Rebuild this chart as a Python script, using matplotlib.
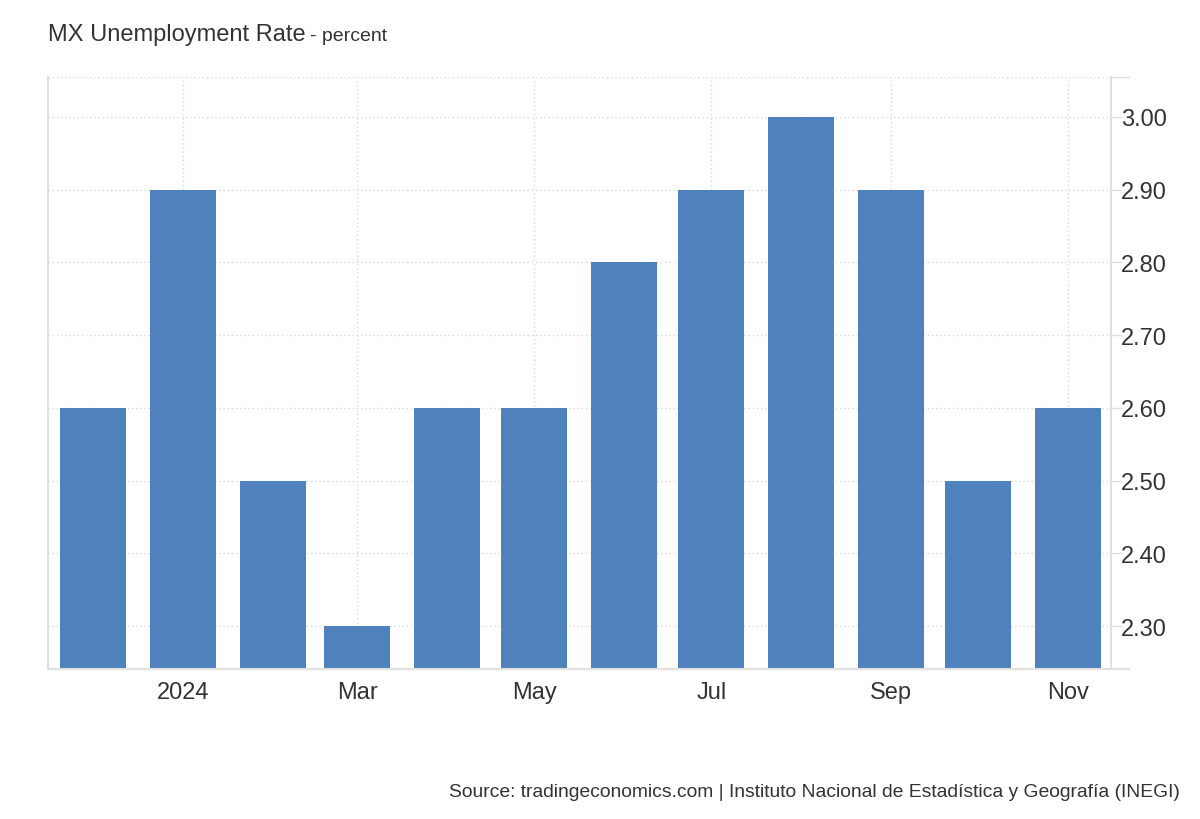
import datetime as dt

import matplotlib
matplotlib.use("Agg")
import matplotlib.dates as mdates
import matplotlib.pyplot as plt

# monthly unemployment rate, Dec 2023 - Nov 2024
months = ["2023-12", "2024-01", "2024-02", "2024-03", "2024-04", "2024-05",
          "2024-06", "2024-07", "2024-08", "2024-09", "2024-10", "2024-11"]
rates = [2.6, 2.9, 2.5, 2.3, 2.6, 2.6, 2.8, 2.9, 3.0, 2.9, 2.5, 2.6]
y_ticks = [2.3, 2.4, 2.5, 2.6, 2.7, 2.8, 2.9, 3.0]
x_ticks = ["2024-01", "2024-03", "2024-05", "2024-07", "2024-09", "2024-11"]
x_labels = ["2024", "Mar", "May", "Jul", "Sep", "Nov"]

BAR_COLOR = "#4f81bd"
TEXT_COLOR = "#333333"
GRID_COLOR = "#d9d9d9"
AXIS_COLOR = "#e0e0e0"

plt.rcParams["font.family"] = ["Liberation Sans", "DejaVu Sans"]


def to_date(s):
    return dt.datetime.strptime(s, "%Y-%m")


def main():
    dates = [to_date(m) for m in months]

    fig = plt.figure(figsize=(12, 8.2), dpi=100)
    ax = fig.add_axes([0.04, 0.183, 0.886, 0.722])

    ax.bar(dates, rates, width=22.7, color=BAR_COLOR, zorder=2)

    ax.set_xlim(dt.datetime(2023, 11, 15, 12), dt.datetime(2024, 11, 15, 18))
    ax.set_ylim(2.241, 3.055)

    ax.set_xticks([mdates.date2num(to_date(t)) for t in x_ticks])
    ax.set_xticklabels(x_labels)
    ax.set_yticks(y_ticks)
    ax.set_yticklabels([f"{v:.2f}" for v in y_ticks])

    ax.yaxis.tick_right()
    ax.tick_params(axis="y", length=8, width=1, color=AXIS_COLOR,
                   labelsize=17, labelcolor=TEXT_COLOR, pad=-1)
    ax.tick_params(axis="x", length=0, labelsize=17, labelcolor=TEXT_COLOR, pad=9)

    ax.grid(True, linestyle=(0, (1, 2)), color=GRID_COLOR, linewidth=1, zorder=0)

    for side in ["left", "bottom", "right"]:
        ax.spines[side].set_color(AXIS_COLOR)
        ax.spines[side].set_linewidth(1.5)
    ax.spines["top"].set_visible(False)
    ax.axhline(ax.get_ylim()[1], color=GRID_COLOR, linestyle=(0, (1, 2)),
               linewidth=1, zorder=0)

    # small extensions beyond the right axis at top and bottom
    ax.plot([1.0, 1.017], [1.0, 1.0], transform=ax.transAxes, color=AXIS_COLOR,
            linewidth=1, clip_on=False)
    ax.plot([1.0, 1.017], [0.0, 0.0], transform=ax.transAxes, color=AXIS_COLOR,
            linewidth=1.5, clip_on=False)

    title = fig.text(0.04, 0.95, "MX Unemployment Rate", fontsize=17,
                     color=TEXT_COLOR, ha="left", va="baseline")
    fig.canvas.draw()
    bbox = title.get_window_extent().transformed(fig.transFigure.inverted())
    fig.text(bbox.x1 + 0.004, 0.95, "- percent", fontsize=14, color=TEXT_COLOR,
             ha="left", va="baseline")

    fig.text(0.983, 0.033, "Source: tradingeconomics.com | Instituto Nacional de "
             "Estadística y Geografía (INEGI)", fontsize=13.9, color=TEXT_COLOR,
             ha="right", va="center")

    fig.savefig("out.png", dpi=100)


if __name__ == "__main__":
    main()
